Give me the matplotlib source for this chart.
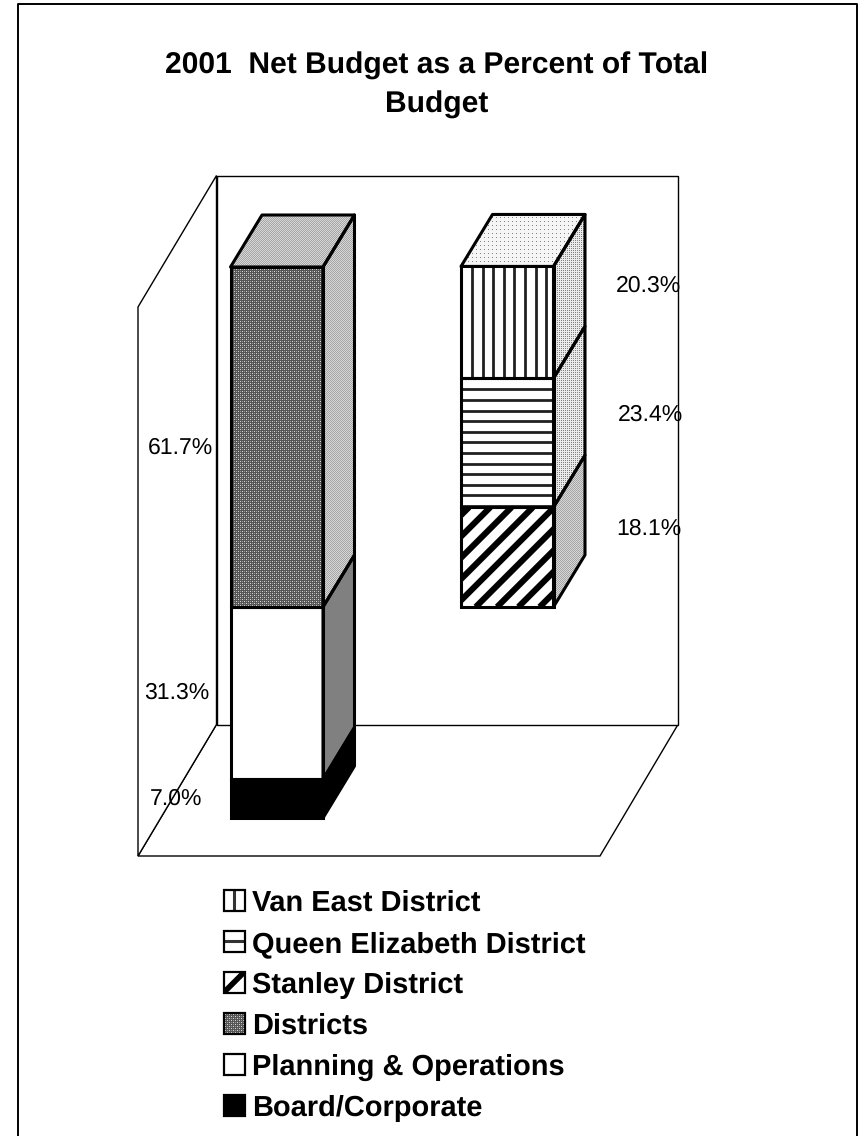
import numpy as np
import matplotlib
matplotlib.use('Agg')
import matplotlib.pyplot as plt
from matplotlib.patches import Polygon, Rectangle

plt.rcParams['font.family'] = ['Liberation Sans', 'DejaVu Sans']
plt.rcParams['text.hinting'] = 'no_hinting'
plt.rcParams['text.hinting_factor'] = 1

title = '2001  Net Budget as a Percent of Total\nBudget'

# left column
left_names = ['Board/Corporate', 'Planning & Operations', 'Districts']
left_values = [7.0, 31.3, 61.7]
# right column, sits on top of Board + Planning
right_names = ['Stanley District', 'Queen Elizabeth District', 'Van East District']
right_values = [18.1, 23.4, 20.3]

legend_names = ['Van East District', 'Queen Elizabeth District', 'Stanley District',
                'Districts', 'Planning & Operations', 'Board/Corporate']

W, H = 860, 1136
PX_PER_PCT = 5.51
BASE_Y = 818
LEFT_X = 230.5
RIGHT_X = 461
BAR_W = 92.5
DX, DY = 31.5, 52


def tile_dots(bg, fg, period):
    t = np.full((period, period), bg, dtype=float)
    t[::period, ::period] = fg
    return t


dark_dither = np.array([[85, 85, 85, 85], [85, 215, 85, 150], [85, 85, 85, 85], [85, 150, 85, 215]], dtype=float)
mid_dither = np.array([[165, 215], [215, 165]], dtype=float)
side_dots = np.array([[235, 235], [235, 130]], dtype=float)
top_dots = tile_dots(245, 130, 4)

fig = plt.figure(figsize=(W / 100, H / 100), dpi=100)
ax = fig.add_axes([0, 0, 1, 1])
ax.set_xlim(0, W)
ax.set_ylim(H, 0)
ax.axis('off')


def fill_texture(pts, tile, z):
    poly = Polygon(pts, closed=True, fc='none', ec='none', zorder=z)
    ax.add_patch(poly)
    x0, y0 = np.min(pts, axis=0)
    x1, y1 = np.max(pts, axis=0)
    x0, y0, x1, y1 = int(x0) - 1, int(y0) - 1, int(x1) + 2, int(y1) + 2
    ny, nx = tile.shape
    img = np.tile(tile, ((y1 - y0) // ny + 1, (x1 - x0) // nx + 1))[:y1 - y0, :x1 - x0]
    im = ax.imshow(img, cmap='gray', vmin=0, vmax=255, extent=(x0, x1, y1, y0),
                   interpolation='nearest', aspect='auto', zorder=z)
    im.set_clip_path(poly)


def stripes(x, y0, y1, w, kind, z, gap, lw, first):
    rect = Rectangle((x, y1), w, y0 - y1, fc='white', ec='none', zorder=z)
    ax.add_patch(rect)
    h = y0 - y1
    if kind == 'v':
        segs = [([s, s], [y1, y0]) for s in np.arange(x + first, x + w, gap)]
    elif kind == 'h':
        segs = [([x, x + w], [s, s]) for s in np.arange(y1 + first, y0, gap)]
    else:
        segs = [([s, s + h], [y0, y1]) for s in np.arange(x - h + first, x + w + 5, gap)]
    for sx, sy in segs:
        ln, = ax.plot(sx, sy, color='#202020' if kind != 'd' else 'black', lw=lw, zorder=z, solid_capstyle='butt')
        ln.set_clip_path(rect)


def draw_box(x, y0, y1, front, side, top, z, edge='black', lw=2.2):
    side_pts = np.array([[x + BAR_W, y0], [x + BAR_W, y1], [x + BAR_W + DX, y1 - DY], [x + BAR_W + DX, y0 - DY]])
    if isinstance(side, str):
        ax.add_patch(Polygon(side_pts, fc=side, ec='none', zorder=z))
    else:
        fill_texture(side_pts, side, z)
    if top is not None:
        top_pts = np.array([[x, y1], [x + BAR_W, y1], [x + BAR_W + DX, y1 - DY], [x + DX, y1 - DY]])
        fill_texture(top_pts, top, z)
        ax.add_patch(Polygon(top_pts, fc='none', ec=edge, lw=lw, zorder=z + 0.5, joinstyle='round'))
    if isinstance(front, str) and front in 'vhd':
        if front == 'd':
            stripes(x, y0, y1, BAR_W, front, z, 21.3, 4.4, 8)
        else:
            stripes(x, y0, y1, BAR_W, front, z, 10.6, 2.0, 11)
    elif isinstance(front, str):
        ax.add_patch(Rectangle((x, y1), BAR_W, y0 - y1, fc=front, ec='none', zorder=z))
    else:
        fill_texture(np.array([[x, y0], [x + BAR_W, y0], [x + BAR_W, y1], [x, y1]]), front, z)
    ax.add_patch(Rectangle((x, y1), BAR_W, y0 - y1, fc='none', ec=edge, lw=lw, zorder=z + 0.5))
    ax.add_patch(Polygon(side_pts, fc='none', ec=edge, lw=lw, zorder=z + 0.5, joinstyle='round'))


# walls and floor
wall_c = '#000000'
ax.add_patch(Polygon([(138, 856), (600, 856), (678, 724.5), (216.5, 724.5)], fc='white', ec=wall_c, lw=1.0, zorder=1))
ax.add_patch(Polygon([(138, 856), (138, 307), (216.5, 175.5), (216.5, 724.5)], fc='white', ec=wall_c, lw=1.0, zorder=1))
ax.add_patch(Rectangle((216.5, 175.5), 461.5, 549, fc='white', ec=wall_c, lw=1.0, zorder=1))

# stacks
styles_left = [('#000000', '#000000', None), ('#ffffff', '#808080', None), (dark_dither, mid_dither, mid_dither)]
styles_right = [('d', mid_dither, None), ('h', side_dots, None), ('v', side_dots, top_dots)]

bottom = 0.0
for val, st in zip(left_values, styles_left):
    y0 = BASE_Y - bottom * PX_PER_PCT
    y1 = BASE_Y - (bottom + val) * PX_PER_PCT
    draw_box(LEFT_X, y0, y1, st[0], st[1], st[2], 3 + bottom / 100)
    bottom += val

bottom = left_values[0] + left_values[1]
for val, st in zip(right_values, styles_right):
    y0 = BASE_Y - bottom * PX_PER_PCT
    y1 = BASE_Y - (bottom + val) * PX_PER_PCT
    draw_box(RIGHT_X, y0, y1, st[0], st[1], st[2], 3 + bottom / 100)
    bottom += val

# value labels, placed by hand beside the columns
fs_lab = 16.5
bottom = 0.0
for val, lx, off in zip(left_values, [176.5, 177, 180], [0, 0, 11]):
    ax.text(lx, BASE_Y - (bottom + val / 2) * PX_PER_PCT + off, f'{val:.1f}%', fontsize=fs_lab, ha='center', va='center', zorder=8)
    bottom += val
bottom = left_values[0] + left_values[1]
for val, lx, off in zip(right_values, [648.5, 650, 648.5], [-28, -28, -37]):
    ax.text(lx, BASE_Y - (bottom + val / 2) * PX_PER_PCT + off, f'{val:.1f}%', fontsize=fs_lab, ha='center', va='center', zorder=8)
    bottom += val

# title
ax.text(436.5, 113, title, fontsize=21.6, fontweight='bold', ha='center', va='baseline', linespacing=1.5)

# legend
leg_tex = ['v', 'h', 'd', dark_dither, '#ffffff', '#000000']
for i, (name, tex) in enumerate(zip(legend_names, leg_tex)):
    y = 900.5 + i * 40.9
    bx, by, s = 223.5, y - 10.5, 21
    if isinstance(tex, str) and tex in 'vhd':
        rect = Rectangle((bx, by), s, s, fc='white', ec='none', zorder=3)
        ax.add_patch(rect)
        if tex == 'v':
            ln, = ax.plot([bx + s / 2] * 2, [by, by + s], color='#333333', lw=2.2, zorder=3, solid_capstyle='butt')
        elif tex == 'h':
            ln, = ax.plot([bx, bx + s], [by + s / 2] * 2, color='#333333', lw=2.2, zorder=3, solid_capstyle='butt')
        else:
            ln, = ax.plot([bx, bx + s], [by + s, by], color='black', lw=4, zorder=3, solid_capstyle='butt')
        ln.set_clip_path(rect)
    elif isinstance(tex, str):
        ax.add_patch(Rectangle((bx, by), s, s, fc=tex, ec='none', zorder=3))
    else:
        fill_texture(np.array([[bx, by], [bx + s, by], [bx + s, by + s], [bx, by + s]]), tex, 3)
    ax.add_patch(Rectangle((bx, by), s, s, fc='none', ec='black', lw=1.6, zorder=4))
    ax.text(252, y + 10.5, name, fontsize=21, fontweight='bold', ha='left', va='baseline')

# outer border, bottom edge runs off the page
ax.plot([17.5, 17.5, 857, 857], [H, 3.5, 3.5, H], color='black', lw=1.4, zorder=10, clip_on=False)

fig.savefig('out.png', dpi=100)
